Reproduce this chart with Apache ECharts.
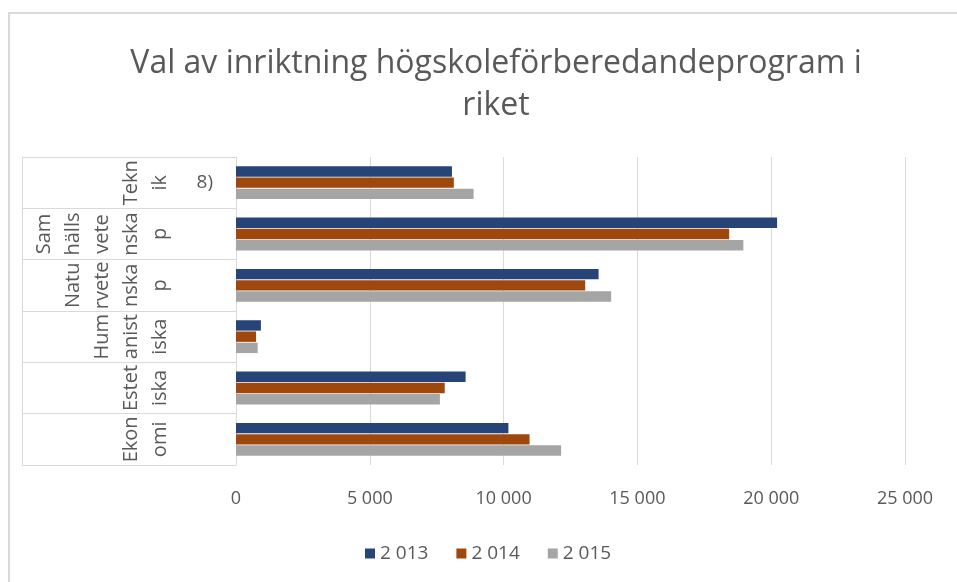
<!DOCTYPE html>
<html>
<head>
<meta charset="utf-8">
<script src="https://cdn.jsdelivr.net/npm/echarts@6/dist/echarts.min.js"></script>
<style>
  html, body { margin: 0; padding: 0; background: #fff; overflow: hidden; }
  #frame { position: absolute; left: 8px; top: 12px; width: 1000px; height: 600px;
           border-left: 2px solid #d9d9d9; border-top: 2px solid #d9d9d9; }
  #chart { position: absolute; left: 0; top: 0; width: 957px; height: 582px; }
</style>
</head>
<body>
<div id="frame"></div>
<div id="chart"></div>
<script>
// kategorier nerifrån och upp, som i Excel
var kategorier = ['Ekonomi', 'Estetiska', 'Humanistiska', 'Naturvetenskap', 'Samhällsvetenskap', 'Teknik'];
// radbrytningarna som etiketterna får i originalet
var etiketter = ['Ekon\nomi', 'Estet\niska', 'Hum\nanist\niska', 'Natu\nrvete\nnska\np', 'Sam\nhälls\nvete\nnska\np', 'Tekn\nik'];
var fotnoter = ['', '', '', '', '', '8)'];

var ar = ['2 013', '2 014', '2 015'];
var v2013 = [10180, 8580, 930, 13550, 20220, 8070];
var v2014 = [10970, 7800, 750, 13050, 18430, 8140];
var v2015 = [12150, 7620, 810, 14020, 18960, 8880];
var farger = ['#264478', '#9e480e', '#a5a5a5'];

var xTicks = { min: 0, max: 25000, interval: 5000 };

var grafText = '#595959';
var linje = '#d9d9d9';
var font = 'Open Sans';

function tusental(v) {
  return String(v).replace(/\B(?=(\d{3})+(?!\d))/g, ' ');
}

var chart = echarts.init(document.getElementById('chart'));

var serier = [v2013, v2014, v2015].map(function (d, i) {
  return {
    name: ar[i],
    type: 'bar',
    yAxisIndex: 0,
    barGap: '8%',
    barCategoryGap: '36%',
    itemStyle: { color: farger[i] },
    data: d
  };
});

chart.setOption({
  textStyle: { fontFamily: font },
  animation: false,
  title: {
    text: 'Val av inriktning högskoleförberedandeprogram i\nriket',
    left: 491,
    top: 38,
    textAlign: 'center',
    textStyle: { fontSize: 32, fontWeight: 'normal', color: grafText, lineHeight: 42, fontFamily: font }
  },
  legend: {
    data: ar,
    left: 360,
    top: 539,
    icon: 'rect',
    itemWidth: 10,
    itemHeight: 10,
    itemGap: 28,
    textStyle: { fontSize: 19, color: grafText, fontFamily: font }
  },
  grid: { left: 236, right: 52, top: 157, bottom: 117 },
  xAxis: {
    type: 'value',
    min: xTicks.min,
    max: xTicks.max,
    interval: xTicks.interval,
    axisLine: { show: false },
    axisTick: { show: false },
    splitLine: { lineStyle: { color: linje, width: 1 } },
    axisLabel: { color: grafText, fontSize: 18, margin: 25, formatter: tusental }
  },
  yAxis: [
    {
      type: 'category',
      data: kategorier,
      position: 'left',
      axisLine: { show: true, lineStyle: { color: linje } },
      axisTick: { show: true, length: 214, lineStyle: { color: linje } },
      axisLabel: {
        interval: 0,
        rotate: 90,
        margin: 61,
        fontSize: 20,
        lineHeight: 29,
        color: grafText,
        formatter: function (v, i) { return etiketter[i]; }
      }
    },
    {
      type: 'category',
      data: kategorier,
      position: 'left',
      axisLine: { show: false },
      axisTick: { show: false },
      axisLabel: {
        interval: 0,
        margin: 23,
        fontSize: 19,
        color: grafText,
        formatter: function (v, i) { return fotnoter[i]; }
      }
    },
    {
      type: 'category',
      data: kategorier,
      position: 'left',
      offset: 214,
      axisLine: { show: true, lineStyle: { color: linje } },
      axisTick: { show: false },
      axisLabel: { show: false }
    }
  ],
  series: serier
});
</script>
</body>
</html>
